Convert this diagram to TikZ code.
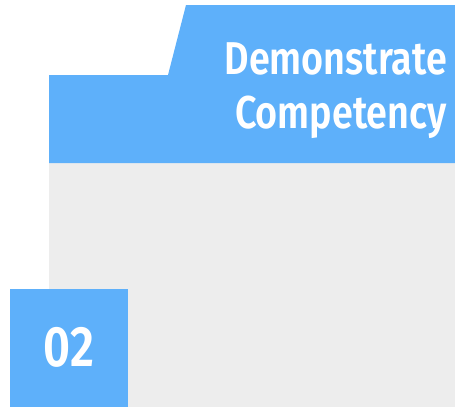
\documentclass[tikz,border=0pt]{standalone}
\usepackage{fontspec}
\setmainfont{Fira Sans}[UprightFont=* SemiBold, BoldFont=* Bold]
\newfontfamily\narrowfont{Fira Sans}[UprightFont=* SemiBold, FakeStretch=0.82]
\usepackage{tikz}
\definecolor{tabblue}{RGB}{94,176,250}
\definecolor{cardgrey}{RGB}{237,237,237}
\tikzstyle{title}=[text=white, font=\narrowfont\fontsize{46}{54}\selectfont, align=right, inner sep=0pt, anchor=north east]
\tikzstyle{number}=[fill=tabblue, text=white, font=\narrowfont\fontsize{57}{60}\selectfont, minimum size=118pt, inner sep=0pt, anchor=south west]

\begin{document}
\begin{tikzpicture}[x=1pt, y=-1pt]
    \useasboundingbox (0,0) rectangle (455,407);
    % card body
    \fill[cardgrey] (49,163) rectangle (455,407);
    % tab and header band
    \fill[tabblue] (186,5) -- (455,5) -- (455,163) -- (49,163) -- (49,75) -- (168,75) -- cycle;

    \node[title] (heading) at (447,42) {Demonstrate\\Competency};
    \node[number] (num) at (10,407) {02};

  \end{tikzpicture}
\end{document}
